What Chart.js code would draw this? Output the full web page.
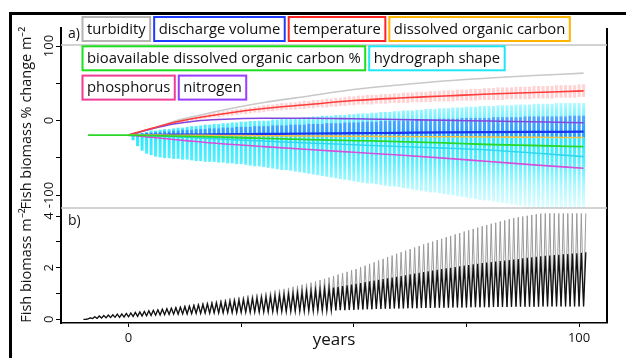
<!DOCTYPE html>
<html>
<head>
<meta charset="utf-8">
<script src="https://cdn.jsdelivr.net/npm/chart.js@4.4.1/dist/chart.umd.min.js"></script>
<style>
  html, body { margin: 0; padding: 0; background: #fff; }
  #wrap { position: relative; width: 626px; height: 358px; overflow: hidden; }
  #frame { position: absolute; left: 9px; top: 12px; right: -4px; bottom: -4px; border-top: 3px solid #000; border-left: 3px solid #000; }
  #fig { position: absolute; left: 0; top: 0; }
</style>
</head>
<body>
<div id="wrap">
  <div id="frame"></div>
  <canvas id="fig" width="626" height="358"></canvas>
</div>
<script>
// ---- panel a: % change, one line per driver (years 0..101) ----
const drivers = ['turbidity', 'discharge volume', 'temperature', 'dissolved organic carbon',
  'bioavailable dissolved organic carbon %', 'hydrograph shape', 'phosphorus', 'nitrogen'];
const legendColors = ['#b4b4b4', '#1f3cff', '#ff2424', '#ffb400', '#1ee01e', '#1ee6f5', '#f03c96', '#9a3cff'];
const lineColors = ['#c9c9c9', '#1a35f0', '#ff3c3c', '#f5c445', '#2ad82a', '#30d8ee', '#d64fd8', '#8447dc'];

const aYears = [-9, 0, 5, 10, 15, 20, 30, 40, 50, 60, 70, 80, 90, 101];
const turbidity = [null, -19.5, -11.4, -1.3, 6, 12.8, 24.2, 32.9, 41.6, 47.7, 53, 57, 60.4, 63.6];
const discharge = [null, -19.5, -19.3, -19, -18.8, -18.6, -18, -17.4, -17, -16.5, -16, -15.6, -15.3, -15];
const temperature = [null, -19.5, -10.7, -2.7, 3.4, 8.1, 16.1, 21.5, 26.8, 30.2, 32.9, 35.6, 37.6, 39.8];
const doc = [null, -19.5, -19.6, -19.7, -19.9, -20.1, -20.4, -20.8, -21.1, -21.5, -21.8, -22.1, -22.5, -22.8];
const bioDoc = [-19.5, -19.5, -20.2, -20.8, -21.5, -22.2, -24, -25.5, -26.9, -28.2, -30, -32.2, -33.5, -35];
const hydrograph = [null, -19.5, -20.5, -21.8, -23.2, -24.8, -27.5, -30.2, -32.5, -34.9, -37, -39.6, -43.5, -48.5];
const phosphorus = [null, -19.5, -22.5, -25.5, -28.2, -30.9, -35, -38.9, -42.6, -46.3, -50.5, -55, -59.5, -64];
const nitrogen = [null, -19.5, -11.4, -4.7, -0.7, 1.3, 3, 3, 2.3, 1.3, 0.4, -0.7, -1.7, -2.9];

// yearly spread of the simulations (panel a), hydrograph + discharge from year 1, temperature from year 10
const cyanStart = 1;
const cyanHi = [-18, -17, -17, -16, -14, -14, -13, -12, -12, -11,
  -10, -10, -9, -8, -8, -7, -6, -6, -5, -5,
  -4, -4, -3, -3, -2, -2, -1, -1, 0, 0,
  0, 1, 1, 2, 2, 3, 3, 3, 4, 4,
  5, 5, 6, 6, 6, 7, 7, 7, 8, 8,
  9, 9, 9, 10, 10, 11, 11, 11, 12, 12,
  13, 13, 13, 14, 14, 15, 15, 15, 16, 16,
  16, 17, 17, 17, 18, 18, 18, 19, 19, 19,
  19, 20, 20, 20, 20, 21, 21, 21, 21, 22,
  22, 22, 22, 22, 23, 23, 23, 23, 23, 23, 23];
const cyanLo = [-26, -34, -40, -44, -46, -48, -49, -50, -50, -51,
  -51, -52, -52, -53, -54, -54, -55, -55, -55, -56,
  -56, -57, -57, -58, -58, -59, -60, -61, -61, -62,
  -63, -64, -65, -66, -66, -67, -68, -69, -70, -71,
  -72, -73, -74, -75, -76, -77, -78, -79, -80, -81,
  -82, -83, -84, -84, -85, -86, -87, -88, -88, -89,
  -90, -91, -92, -93, -94, -95, -96, -96, -97, -98,
  -99, -100, -101, -102, -103, -104, -105, -106, -107, -107,
  -108, -109, -110, -111, -112, -113, -114, -115, -115, -116,
  -117, -117, -118, -118, -119, -119, -120, -120, -120, -120, -120];
const blueStart = 1;
const blueHi = [-19, -18, -18, -17, -17, -16, -16, -15, -15, -14,
  -14, -13, -13, -13, -12, -12, -12, -11, -11, -11,
  -10, -10, -10, -9, -9, -9, -9, -8, -8, -8,
  -8, -7, -7, -7, -7, -6, -6, -6, -6, -5,
  -5, -5, -5, -4, -4, -4, -4, -3, -3, -3,
  -3, -2, -2, -2, -2, -1, -1, -1, -1, 0,
  0, 0, 0, 1, 1, 1, 1, 1, 2, 2,
  2, 2, 2, 3, 3, 3, 3, 3, 3, 3,
  4, 4, 4, 4, 4, 4, 4, 5, 5, 5,
  5, 5, 5, 5, 5, 5, 5, 6, 6, 6, 6];
const blueLo = [-20, -20, -20, -21, -21, -21, -21, -21, -21, -21,
  -21, -21, -21, -21, -21, -21, -21, -21, -21, -21,
  -21, -21, -21, -21, -21, -21, -21, -21, -21, -21,
  -21, -21, -21, -21, -21, -21, -21, -21, -21, -21,
  -22, -22, -22, -22, -22, -22, -22, -22, -22, -22,
  -22, -22, -22, -22, -22, -22, -22, -22, -22, -22,
  -22, -22, -22, -22, -22, -22, -22, -22, -22, -22,
  -22, -22, -22, -22, -22, -22, -22, -22, -22, -22,
  -22, -22, -22, -22, -22, -22, -22, -22, -22, -22,
  -22, -22, -22, -22, -22, -22, -22, -22, -22, -22, -22];
const redStart = 10;
const redHi = [-1, 0, 2, 3, 4, 5, 6, 7, 9, 10,
  11, 12, 13, 14, 15, 15, 16, 17, 18, 19,
  20, 21, 21, 22, 23, 23, 24, 24, 25, 26,
  26, 27, 27, 28, 29, 29, 30, 30, 31, 32,
  32, 33, 33, 34, 34, 34, 35, 35, 35, 36,
  36, 37, 37, 37, 38, 38, 38, 39, 39, 39,
  40, 40, 40, 41, 41, 41, 42, 42, 42, 43,
  43, 43, 44, 44, 44, 44, 45, 45, 45, 45,
  46, 46, 46, 46, 46, 47, 47, 47, 47, 47,
  48, 48];
const redLo = [-4, -3, -2, -1, 0, 1, 2, 3, 4, 5,
  5, 6, 7, 7, 8, 9, 9, 10, 11, 11,
  12, 13, 13, 14, 14, 15, 15, 15, 16, 16,
  17, 17, 18, 18, 18, 19, 19, 20, 20, 21,
  21, 22, 22, 22, 22, 23, 23, 23, 24, 24,
  24, 24, 24, 25, 25, 25, 25, 25, 26, 26,
  26, 26, 26, 27, 27, 27, 27, 27, 28, 28,
  28, 28, 28, 28, 29, 29, 29, 29, 29, 29,
  30, 30, 30, 30, 30, 31, 31, 31, 31, 31,
  32, 32];

// ---- panel b: fish biomass m-2, yearly low / high (years -10..101) ----
const bStart = -10;
const bTrough = [0, 0.02, 0.03, 0.04, 0.05, 0.06, 0.07, 0.08, 0.08, 0.09,
  0.1, 0.11, 0.12, 0.13, 0.14, 0.15, 0.16, 0.17, 0.18, 0.19,
  0.2, 0.2, 0.21, 0.21, 0.22, 0.23, 0.23, 0.24, 0.24, 0.25,
  0.25, 0.25, 0.26, 0.26, 0.26, 0.27, 0.27, 0.27, 0.28, 0.28,
  0.28, 0.29, 0.29, 0.29, 0.3, 0.3, 0.31, 0.31, 0.31, 0.32,
  0.32, 0.33, 0.33, 0.34, 0.34, 0.35, 0.35, 0.36, 0.36, 0.37,
  0.37, 0.38, 0.38, 0.39, 0.39, 0.4, 0.4, 0.41, 0.41, 0.42,
  0.42, 0.42, 0.43, 0.43, 0.43, 0.44, 0.44, 0.44, 0.45, 0.45,
  0.45, 0.45, 0.46, 0.46, 0.46, 0.46, 0.47, 0.47, 0.47, 0.47,
  0.47, 0.48, 0.48, 0.48, 0.48, 0.48, 0.49, 0.49, 0.49, 0.49,
  0.49, 0.49, 0.5, 0.5, 0.5, 0.5, 0.5, 0.5, 0.5, 0.5,
  0.5, 0.5];
const bPeakAll = [0, 0.06, 0.1, 0.13, 0.15, 0.17, 0.18, 0.2, 0.21, 0.23,
  0.25, 0.27, 0.29, 0.31, 0.34, 0.36, 0.38, 0.41, 0.43, 0.46,
  0.48, 0.51, 0.54, 0.56, 0.59, 0.62, 0.65, 0.68, 0.7, 0.73,
  0.76, 0.79, 0.82, 0.84, 0.87, 0.9, 0.93, 0.96, 0.99, 1.02,
  1.05, 1.08, 1.12, 1.15, 1.18, 1.22, 1.26, 1.3, 1.34, 1.38,
  1.42, 1.47, 1.52, 1.57, 1.62, 1.68, 1.73, 1.79, 1.84, 1.9,
  1.95, 2.02, 2.08, 2.15, 2.21, 2.28, 2.34, 2.41, 2.47, 2.54,
  2.6, 2.66, 2.72, 2.78, 2.84, 2.9, 2.96, 3.01, 3.07, 3.12,
  3.18, 3.23, 3.29, 3.34, 3.4, 3.45, 3.5, 3.55, 3.6, 3.65,
  3.7, 3.74, 3.79, 3.83, 3.88, 3.92, 3.95, 3.98, 4.01, 4.04,
  4.07, 4.09, 4.1, 4.1, 4.1, 4.1, 4.1, 4.1, 4.1, 4.1,
  4.1, 4.1];
const bPeakCore = [0, 0.06, 0.1, 0.13, 0.15, 0.17, 0.18, 0.2, 0.21, 0.23,
  0.25, 0.27, 0.29, 0.31, 0.33, 0.35, 0.37, 0.39, 0.41, 0.43,
  0.45, 0.47, 0.49, 0.51, 0.53, 0.55, 0.57, 0.59, 0.61, 0.63,
  0.65, 0.67, 0.69, 0.71, 0.73, 0.75, 0.77, 0.79, 0.81, 0.83,
  0.85, 0.87, 0.89, 0.92, 0.94, 0.97, 0.99, 1.02, 1.04, 1.07,
  1.09, 1.12, 1.14, 1.17, 1.2, 1.23, 1.26, 1.29, 1.32, 1.35,
  1.38, 1.41, 1.44, 1.47, 1.5, 1.53, 1.56, 1.59, 1.62, 1.65,
  1.68, 1.71, 1.74, 1.77, 1.8, 1.83, 1.86, 1.89, 1.92, 1.95,
  1.98, 2.0, 2.03, 2.05, 2.08, 2.1, 2.13, 2.15, 2.18, 2.2,
  2.22, 2.24, 2.26, 2.28, 2.3, 2.32, 2.34, 2.36, 2.38, 2.4,
  2.42, 2.44, 2.46, 2.47, 2.49, 2.5, 2.52, 2.53, 2.55, 2.56,
  2.58, 2.6];

const legendRows = [[0, 1, 2, 3], [4, 5], [6, 7]];

// helpers
const pts = (vals) => aYears.map((x, i) => ({ x: x, y: vals[i] }));
const band = (start, hi, lo) => hi.map((h, i) => ({ x: start + i, y: [lo[i], h] }));
const zigzag = (lows, highs) => {
  const out = [];
  lows.forEach((lo, i) => {
    out.push({ x: bStart + i, y: lo });
    out.push({ x: bStart + i + 0.5, y: highs[i] });
  });
  return out;
};

const lineDs = (label, vals, color, width, order) => ({
  type: 'line', label: label, yAxisID: 'ya', data: pts(vals),
  borderColor: color, borderWidth: width, pointRadius: 0,
  cubicInterpolationMode: 'monotone', order: order
});
const bandDs = (label, data, color, order) => ({
  type: 'bar', label: label, yAxisID: 'ya', data: data,
  backgroundColor: color, borderWidth: 0, barThickness: 2.4, grouped: false, order: order
});

function cyanFill(context) {
  const chart = context.chart;
  const ya = chart.scales.ya;
  if (!chart.chartArea || !ya || !isFinite(ya.top) || !isFinite(ya.bottom) || ya.bottom <= ya.top) {
    return 'rgba(0,230,255,0.5)';
  }
  const g = chart.ctx.createLinearGradient(0, ya.top, 0, ya.bottom);
  g.addColorStop(0, 'rgba(0,235,255,0.1)');
  g.addColorStop(0.4, 'rgba(0,235,255,0.25)');
  g.addColorStop(0.5, 'rgba(0,232,255,0.55)');
  g.addColorStop(0.6, 'rgba(0,230,255,0.85)');
  g.addColorStop(0.74, 'rgba(0,230,255,0.65)');
  g.addColorStop(0.87, 'rgba(0,235,255,0.32)');
  g.addColorStop(1, 'rgba(0,235,255,0.12)');
  return g;
}

const figDecor = {
  id: 'figDecor',
  afterDraw(chart, args, opts) {
    const { ctx, chartArea, scales } = chart;
    ctx.save();
    ctx.strokeStyle = '#000';
    ctx.lineWidth = 2;
    ctx.beginPath();
    ctx.moveTo(chartArea.right, chartArea.top);
    ctx.lineTo(chartArea.right, chartArea.bottom);
    ctx.stroke();
    ctx.strokeStyle = '#c4c4c4';
    ctx.lineWidth = 1.5;
    [chartArea.top + 17, scales.yb.top].forEach((y) => {
      ctx.beginPath();
      ctx.moveTo(chartArea.left, y);
      ctx.lineTo(chartArea.right, y);
      ctx.stroke();
    });

    ctx.fillStyle = '#111';
    ctx.font = '14px "Open Sans"';
    ctx.textAlign = 'left';
    ctx.textBaseline = 'middle';
    ctx.fillText('a)', chartArea.left + 7, chartArea.top + 6);
    ctx.fillText('b)', chartArea.left + 7, scales.yb.top + 13);

    // boxed driver labels
    ctx.font = opts.font;
    let top = opts.top;
    opts.rows.forEach((row) => {
      let x = opts.left;
      row.forEach((k) => {
        const w = ctx.measureText(drivers[k]).width + 2 * opts.pad;
        ctx.fillStyle = '#fff';
        ctx.fillRect(x, top, w, opts.height);
        ctx.strokeStyle = legendColors[k];
        ctx.lineWidth = 2;
        ctx.strokeRect(x, top, w, opts.height);
        ctx.fillStyle = '#111';
        ctx.fillText(drivers[k], x + opts.pad, top + opts.height / 2 + 0.5);
        x += w + opts.gap;
      });
      top += opts.rowStep;
    });
    ctx.restore();
  }
};

new Chart(document.getElementById('fig'), {
  type: 'line',
  data: {
    datasets: [
      lineDs(drivers[0], turbidity, lineColors[0], 1.6, 3),
      lineDs(drivers[2], temperature, lineColors[2], 1.6, 2),
      lineDs(drivers[7], nitrogen, lineColors[7], 1.6, 2),
      lineDs(drivers[1], discharge, lineColors[1], 2.2, 2),
      lineDs(drivers[3], doc, lineColors[3], 1.6, 1),
      lineDs(drivers[5], hydrograph, lineColors[5], 1.6, 2),
      lineDs(drivers[6], phosphorus, lineColors[6], 1.6, 1),
      lineDs(drivers[4], bioDoc, lineColors[4], 1.8, 0),
      bandDs('temperature spread', band(redStart, redHi, redLo), 'rgba(255,110,110,0.3)', 6),
      bandDs('discharge spread', band(blueStart, blueHi, blueLo), 'rgba(40,70,255,0.45)', 7),
      bandDs('hydrograph spread', band(cyanStart, cyanHi, cyanLo), cyanFill, 8),
      {
        type: 'line', label: 'biomass core', yAxisID: 'yb', data: zigzag(bTrough, bPeakCore),
        borderColor: '#111', borderWidth: 1.3, pointRadius: 0, tension: 0, order: 4
      },
      {
        type: 'line', label: 'biomass', yAxisID: 'yb', data: zigzag(bTrough, bPeakAll),
        borderColor: '#9a9a9a', borderWidth: 1, pointRadius: 0, tension: 0, order: 5
      }
    ]
  },
  options: {
    responsive: false,
    devicePixelRatio: 1,
    animation: false,
    layout: { padding: { left: 0, right: 19, top: 28, bottom: 0 } },
    plugins: {
      legend: { display: false },
      tooltip: { enabled: false },
      figDecor: {
        rows: legendRows, font: '14.8px "Open Sans"', left: 82.5, top: 17,
        height: 24, rowStep: 29.3, pad: 4.5, gap: 4
      }
    },
    scales: {
      x: {
        type: 'linear', position: 'bottom', min: -15, max: 106.2, offset: false,
        grid: { drawOnChartArea: false, tickLength: 4, color: '#000', offset: false },
        border: { color: '#000', width: 1.5 },
        ticks: {
          stepSize: 25, includeBounds: false, autoSkip: false, maxRotation: 0, padding: 3,
          color: '#111', font: { family: 'Open Sans', size: 13 },
          callback: (v) => (v === 0 || v === 100) ? String(v) : ''
        },
        title: {
          display: true, text: 'years', color: '#111',
          font: { family: 'Open Sans', size: 17 }, padding: { top: 0, bottom: 8 }
        },
        afterFit: (s) => { s.height = 35; }
      },
      // left boxes are stacked in reverse order, so the lower panel is declared first
      yb: {
        type: 'linear', position: 'left', stack: 'panels', stackWeight: 115,
        min: -0.14, max: 4.31,
        grid: { drawOnChartArea: false, tickLength: 5, color: '#000' },
        border: { color: '#000', width: 2 },
        ticks: {
          stepSize: 1, includeBounds: false, autoSkip: false, minRotation: 90, maxRotation: 90,
          crossAlign: 'center', padding: 3, color: '#111', font: { family: 'Open Sans', size: 13 },
          callback: (v) => (v % 2 === 0) ? String(v) : ''
        },
        title: {
          display: true, text: 'Fish biomass m\u207B\u00B2', color: '#111',
          font: { family: 'Open Sans', size: 14.5 }, padding: { top: 18, bottom: 0 }
        },
        afterFit: (s) => { s.width = 61; }
      },
      ya: {
        type: 'linear', position: 'left', stack: 'panels', stackWeight: 180,
        min: -117.4, max: 124.2,
        grid: { drawOnChartArea: false, tickLength: 5, color: '#000' },
        border: { color: '#000', width: 2 },
        ticks: {
          stepSize: 50, includeBounds: false, autoSkip: false, minRotation: 90, maxRotation: 90,
          crossAlign: 'center', padding: -7, color: '#111', font: { family: 'Open Sans', size: 13 },
          callback: (v) => (v % 100 === 0) ? String(v) : ''
        },
        title: {
          display: true, text: 'Fish biomass % change m\u207B\u00B2', color: '#111',
          font: { family: 'Open Sans', size: 14.5 }, padding: { top: 18, bottom: 0 }
        },
        afterFit: (s) => { s.width = 61; }
      }
    }
  },
  plugins: [figDecor]
});
</script>
</body>
</html>
